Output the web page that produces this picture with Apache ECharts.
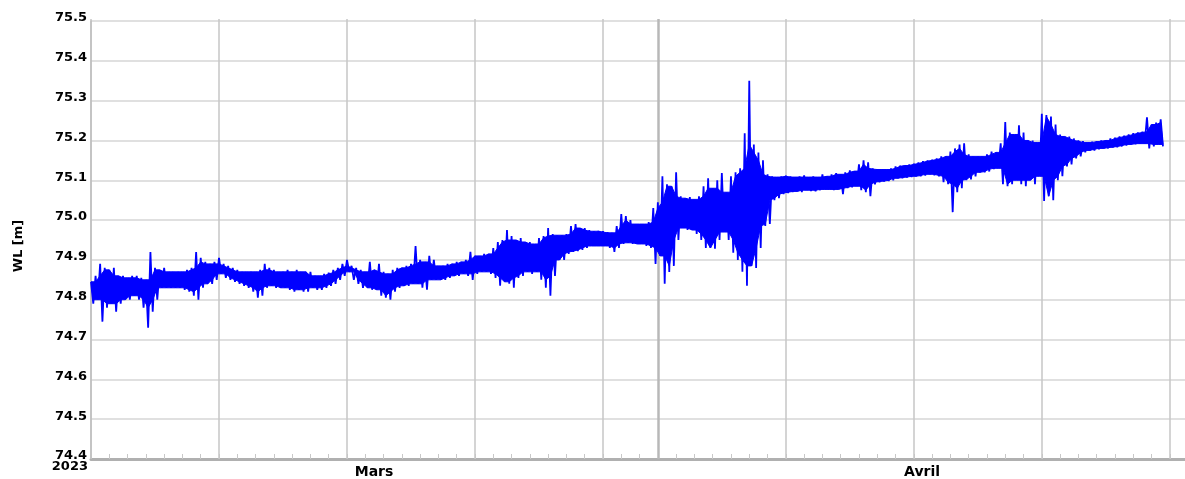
<!DOCTYPE html>
<html>
<head>
<meta charset="utf-8">
<script src="https://cdn.jsdelivr.net/npm/echarts@6/dist/echarts.min.js"></script>
<style>
  html, body { margin: 0; padding: 0; background: #ffffff; }
  #chart { width: 1185px; height: 479px; }
</style>
</head>
<body>
<div id="chart"></div>
<script>
// Water level (WL, m) from 1 March 2023, one (high, low) pair every 6 hours.
// x is counted in days since 1 March 2023, 00:00.
const stepDays = 0.25;

const wlHigh = [
  74.845, 74.86, 74.89, 74.88, 74.875, 74.88, 74.86, 74.86, 74.855, 74.86,
  74.86, 74.855, 74.85, 74.92, 74.88, 74.875, 74.88, 74.87, 74.87, 74.87,
  74.87, 74.875, 74.88, 74.92, 74.905, 74.895, 74.89, 74.895, 74.905, 74.89,
  74.885, 74.88, 74.875, 74.87, 74.87, 74.87, 74.87, 74.875, 74.89, 74.88,
  74.875, 74.87, 74.87, 74.875, 74.87, 74.875, 74.87, 74.87, 74.87, 74.86,
  74.86, 74.865, 74.868, 74.875, 74.88, 74.89, 74.90, 74.885, 74.88, 74.875,
  74.87, 74.895, 74.875, 74.89, 74.87, 74.865, 74.875, 74.88, 74.88, 74.885,
  74.89, 74.935, 74.90, 74.895, 74.91, 74.90, 74.885, 74.885, 74.89, 74.89,
  74.895, 74.895, 74.90, 74.92, 74.91, 74.91, 74.915, 74.915, 74.93, 74.945,
  74.95, 74.975, 74.96, 74.95, 74.955, 74.945, 74.945, 74.94, 74.955, 74.96,
  74.98, 74.965, 74.962, 74.962, 74.965, 74.985, 74.99, 74.98, 74.98, 74.975,
  74.972, 74.973, 74.972, 74.97, 74.968, 74.985, 75.015, 75.01, 75.0, 74.99,
  74.99, 74.99, 74.995, 75.03, 75.045, 75.11, 75.09, 75.085, 75.12, 75.06,
  75.055, 75.058, 75.052, 75.06, 75.085, 75.105, 75.08, 75.10, 75.118, 75.07,
  75.11, 75.12, 75.13, 75.218, 75.35, 75.19, 75.17, 75.15, 75.115, 75.11,
  75.108, 75.11, 75.112, 75.11, 75.108, 75.11, 75.112, 75.108, 75.11, 75.108,
  75.115, 75.11, 75.115, 75.118, 75.115, 75.12, 75.125, 75.123, 75.14, 75.15,
  75.145, 75.13, 75.128, 75.127, 75.127, 75.13, 75.135, 75.137, 75.137, 75.14,
  75.142, 75.145, 75.148, 75.15, 75.152, 75.155, 75.16, 75.16, 75.172, 75.18,
  75.19, 75.193, 75.165, 75.16, 75.16, 75.16, 75.165, 75.172, 75.17, 75.193,
  75.246, 75.22, 75.215, 75.238, 75.22, 75.20, 75.20, 75.195, 75.267, 75.264,
  75.26, 75.24, 75.215, 75.21, 75.21, 75.205, 75.20, 75.198, 75.195, 75.197,
  75.198, 75.20, 75.20, 75.205, 75.207, 75.21, 75.212, 75.215, 75.218, 75.22,
  75.222, 75.258, 75.24, 75.245, 75.253
];

const wlLow = [
  74.79, 74.80, 74.745, 74.78, 74.79, 74.77, 74.79, 74.80, 74.80, 74.81,
  74.80, 74.78, 74.73, 74.77, 74.80, 74.83, 74.83, 74.83, 74.83, 74.83,
  74.825, 74.82, 74.81, 74.80, 74.83, 74.84, 74.84, 74.85, 74.865, 74.855,
  74.85, 74.845, 74.84, 74.835, 74.83, 74.82, 74.805, 74.81, 74.83, 74.835,
  74.83, 74.83, 74.83, 74.825, 74.82, 74.825, 74.82, 74.82, 74.83, 74.825,
  74.825, 74.83, 74.835, 74.84, 74.85, 74.86, 74.87, 74.85, 74.84, 74.83,
  74.83, 74.825, 74.825, 74.81, 74.805, 74.80, 74.82, 74.83, 74.835, 74.835,
  74.84, 74.84, 74.83, 74.825, 74.85, 74.85, 74.85, 74.85, 74.855, 74.86,
  74.86, 74.865, 74.86, 74.85, 74.865, 74.87, 74.87, 74.865, 74.855, 74.835,
  74.845, 74.84, 74.83, 74.855, 74.86, 74.87, 74.865, 74.87, 74.85, 74.83,
  74.81, 74.86, 74.90, 74.90, 74.915, 74.92, 74.922, 74.925, 74.93, 74.935,
  74.935, 74.935, 74.935, 74.93, 74.92, 74.93, 74.94, 74.943, 74.94, 74.94,
  74.94, 74.935, 74.93, 74.89, 74.91, 74.84, 74.87, 74.885, 74.95, 74.98,
  74.975, 74.975, 74.965, 74.95, 74.93, 74.93, 74.928, 74.95, 74.97, 74.95,
  74.918, 74.90, 74.87, 74.835, 74.885, 74.88, 74.93, 74.985, 74.99, 75.05,
  75.055, 75.065, 75.068, 75.07, 75.072, 75.07, 75.075, 75.073, 75.072, 75.075,
  75.077, 75.077, 75.075, 75.077, 75.065, 75.08, 75.082, 75.085, 75.075, 75.07,
  75.06, 75.09, 75.095, 75.097, 75.098, 75.10, 75.105, 75.105, 75.107, 75.108,
  75.11, 75.11, 75.112, 75.115, 75.112, 75.11, 75.095, 75.09, 75.02, 75.07,
  75.08, 75.10, 75.102, 75.11, 75.12, 75.12, 75.122, 75.128, 75.13, 75.09,
  75.085, 75.09, 75.10, 75.09, 75.085, 75.10, 75.09, 75.11, 75.048, 75.06,
  75.05, 75.10, 75.11, 75.135, 75.14, 75.155, 75.16, 75.17, 75.175, 75.175,
  75.178, 75.18, 75.18, 75.182, 75.183, 75.185, 75.187, 75.19, 75.19, 75.192,
  75.192, 75.18, 75.185, 75.19, 75.185
];

// Axis extents and labels
const xMinDay = 0;
const xMaxDay = 59.83;
const yMin = 74.4;
const yMax = 75.5;
const yStep = 0.1;
const weekLineDays = [0, 7, 14, 21, 28, 38, 45, 52, 59];   // 1st, 8th, 15th, 22nd, 29th of each month
const monthStartDays = [31];                                  // 1 April
const monthNames = ['Mars', 'Avril'];
const monthLabelDays = [15.48, 45.45];
const yearLabel = '2023';

const dayTicks = [];
for (let d = 1; d <= 59; d++) dayTicks.push(d);

// Each sample contributes its high value, then its low value half a step later
const zigzag = [];
for (let i = 0; i < wlHigh.length; i++) {
  zigzag.push([i * stepDays, wlHigh[i]]);
  zigzag.push([i * stepDays + stepDays / 2, wlLow[i]]);
}

const BLUE = '#0000ff';
const labelFont = { fontFamily: 'DejaVu Sans', fontWeight: 'bold', color: '#000000' };

// Solid core of the trace: the part covered by every neighbouring swing,
// so isolated peaks and dips stay thin strokes of the zigzag line.
function renderCore(params, api) {
  const n = wlHigh.length;
  const top = [], bottom = [];
  for (let i = 0; i < n; i++) {
    const a = Math.max(0, i - 1), b = Math.min(n - 1, i + 1);
    let hi = Math.min(wlHigh[a], wlHigh[i], wlHigh[b]);
    let lo = Math.max(wlLow[a], wlLow[i], wlLow[b]);
    if (hi < lo) { const m = (hi + lo) / 2; hi = m; lo = m; }
    top.push(api.coord([i * stepDays, hi]));
    bottom.push(api.coord([i * stepDays + stepDays / 2, lo]));
  }
  return {
    type: 'polygon',
    shape: { points: top.concat(bottom.reverse()) },
    style: { fill: BLUE, stroke: BLUE, lineWidth: 1 }
  };
}

function gridAxis(days, color, width) {
  return {
    type: 'value', min: xMinDay, max: xMaxDay, position: 'bottom',
    axisLine: { show: false },
    axisTick: { show: true, inside: true, length: 440, customValues: days,
                lineStyle: { color: color, width: width } },
    axisLabel: { show: false },
    splitLine: { show: false }
  };
}

const chart = echarts.init(document.getElementById('chart'), null, { renderer: 'canvas' });
chart.setOption({
  animation: false,
  backgroundColor: '#ffffff',
  grid: { left: 91, right: 0, top: 21, bottom: 18, containLabel: false },
  xAxis: [
    {
      type: 'value', min: xMinDay, max: xMaxDay, position: 'bottom',
      axisLine: { show: true, lineStyle: { color: '#b0b0b0', width: 3 } },
      axisTick: { show: true, inside: true, length: 5, customValues: dayTicks,
                  lineStyle: { color: '#c8c8c8', width: 1 } },
      axisLabel: Object.assign({
        show: true, customValues: monthLabelDays, fontSize: 14, margin: 6,
        formatter: v => {
          const k = monthLabelDays.findIndex(d => Math.abs(d - v) < 0.01);
          return k >= 0 ? monthNames[k] : '';
        }
      }, labelFont),
      splitLine: { show: false }
    },
    gridAxis(weekLineDays, '#c6c6c6', 1.5),
    gridAxis(monthStartDays, '#b8b8b8', 2.5),
    {
      type: 'value', min: xMinDay, max: xMaxDay, position: 'bottom',
      axisLine: { show: false },
      axisTick: { show: false },
      axisLabel: Object.assign({
        show: true, customValues: [xMinDay], fontSize: 13, margin: 1, align: 'right',
        padding: [0, 3, 0, 0],
        formatter: () => yearLabel
      }, labelFont),
      splitLine: { show: false }
    }
  ],
  yAxis: {
    type: 'value', min: yMin, max: yMax, interval: yStep,
    name: 'WL [m]', nameLocation: 'middle', nameGap: 66, nameRotate: 90,
    nameTextStyle: Object.assign({ fontSize: 13, padding: [0, 12, 0, 0] }, labelFont),
    axisLine: { show: true, lineStyle: { color: '#a8a8a8', width: 1.5 } },
    axisTick: { show: false },
    axisLabel: Object.assign({
      fontSize: 13, margin: 4, verticalAlign: 'bottom', lineHeight: 6,
      formatter: v => v.toFixed(1)
    }, labelFont),
    splitLine: { show: true, lineStyle: { color: '#d6d6d6', width: 1.5 } }
  },
  series: [
    {
      type: 'custom',
      coordinateSystem: 'cartesian2d',
      xAxisIndex: 0,
      data: [[0, wlHigh[0]]],
      renderItem: renderCore,
      clip: true,
      silent: true
    },
    {
      type: 'line',
      xAxisIndex: 0,
      data: zigzag,
      showSymbol: false,
      sampling: null,
      lineStyle: { color: BLUE, width: 1.8 },
      itemStyle: { color: BLUE },
      clip: true
    }
  ]
});
</script>
</body>
</html>
